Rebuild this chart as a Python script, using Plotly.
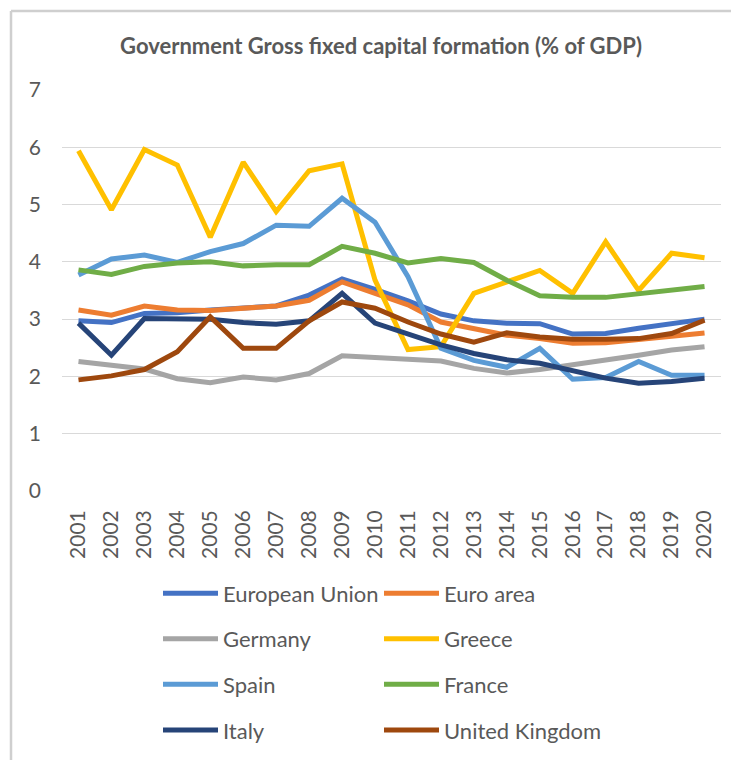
import plotly.graph_objects as go

years = [str(y) for y in range(2001, 2021)]

european_union = [2.97, 2.94, 3.10, 3.11, 3.16, 3.19, 3.23, 3.42, 3.70, 3.52, 3.32, 3.09, 2.97, 2.93, 2.92, 2.74, 2.75, 2.84, 2.91, 3.00]
euro_area = [3.16, 3.07, 3.23, 3.16, 3.15, 3.20, 3.23, 3.33, 3.65, 3.45, 3.25, 2.95, 2.83, 2.72, 2.66, 2.58, 2.59, 2.65, 2.72, 2.76]
germany = [2.26, 2.20, 2.13, 1.96, 1.89, 1.99, 1.94, 2.05, 2.36, 2.33, 2.30, 2.27, 2.14, 2.06, 2.12, 2.20, 2.27, 2.37, 2.46, 2.52]
greece = [5.94, 4.91, 5.96, 5.69, 4.43, 5.74, 4.88, 5.59, 5.71, 3.68, 2.47, 2.52, 3.45, 3.65, 3.85, 3.45, 4.35, 3.50, 4.15, 4.07]
spain = [3.77, 4.05, 4.12, 3.99, 4.18, 4.32, 4.64, 4.62, 5.11, 4.69, 3.74, 2.49, 2.28, 2.16, 2.49, 1.95, 1.98, 2.26, 2.02, 2.02]
france = [3.86, 3.78, 3.92, 3.98, 4.00, 3.93, 3.95, 3.95, 4.27, 4.15, 3.98, 4.06, 3.99, 3.68, 3.41, 3.38, 3.38, 3.44, 3.52, 3.57]
italy = [2.93, 2.37, 3.01, 3.01, 3.00, 2.94, 2.91, 2.97, 3.45, 2.93, 2.75, 2.55, 2.40, 2.29, 2.23, 2.11, 1.97, 1.88, 1.91, 1.97]
united_kingdom = [1.94, 2.01, 2.12, 2.43, 3.04, 2.49, 2.49, 2.97, 3.30, 3.19, 2.95, 2.74, 2.60, 2.76, 2.69, 2.65, 2.65, 2.66, 2.75, 2.98]

y_ticks = [0, 1, 2, 3, 4, 5, 6, 7]

series = [
    ("European Union", european_union, "#4472C4", "legend"),
    ("Euro area", euro_area, "#ED7D31", "legend2"),
    ("Germany", germany, "#A5A5A5", "legend"),
    ("Greece", greece, "#FFC000", "legend2"),
    ("Spain", spain, "#5B9BD5", "legend"),
    ("France", france, "#70AD47", "legend2"),
    ("Italy", italy, "#264478", "legend"),
    ("United Kingdom", united_kingdom, "#9E480E", "legend2"),
]

FONT = "Lato, 'Liberation Sans', sans-serif"
TXT = "#595959"

fig = go.Figure()
for name, vals, color, leg in series:
    fig.add_trace(go.Scatter(
        x=years, y=vals, name=name, mode="lines",
        line=dict(color=color, width=5),
        legend=leg, legendgroup=name,
    ))

# page body has an 8px offset; layout numbers are in figure coordinates
W, H = 739, 760
L, R, T, B = 54, 26, 82, 277.3
pw = W - L - R
ph = H - T - B

def px_x(x):
    return (x - L) / pw

def px_y(y):
    return (H - B - y) / ph

legend_common = dict(
    font=dict(family=FONT, size=22, color=TXT),
    bgcolor="rgba(0,0,0,0)",
    orientation="v",
    itemwidth=55,
    tracegroupgap=14,
    yanchor="top",
    xanchor="left",
    itemclick=False,
)

fig.update_layout(
    width=W, height=H,
    margin=dict(l=L, r=R, t=T, b=B, autoexpand=False),
    paper_bgcolor="white",
    plot_bgcolor="white",
    font=dict(family=FONT, color=TXT),
    title=dict(
        text="<b>Government Gross fixed capital formation (% of GDP)</b>",
        font=dict(family=FONT, size=22, color=TXT),
        x=px_x(373), xref="paper", xanchor="center",
        y=1 - 38 / H, yref="container", yanchor="middle",
    ),
    xaxis=dict(
        type="category",
        range=[-0.5, len(years) - 0.5],
        showgrid=False,
        showline=False,
        zeroline=False,
        ticks="",
        tickangle=-90,
        tickfont=dict(family=FONT, size=21, color=TXT),
        ticklabelstandoff=14,
        fixedrange=True,
        automargin=False,
    ),
    yaxis=dict(
        range=[0, 7],
        tickvals=y_ticks,
        ticktext=[str(v) for v in y_ticks],
        showgrid=True,
        gridcolor="#D9D9D9",
        gridwidth=1.3,
        zeroline=False,
        showline=False,
        ticks="",
        tickfont=dict(family=FONT, size=21, color=TXT),
        ticklabelstandoff=20,
        fixedrange=True,
        automargin=False,
    ),
    legend=dict(x=px_x(150), y=px_y(564), **legend_common),
    legend2=dict(x=px_x(371), y=px_y(564), **legend_common),
    showlegend=True,
)

# chart area border (light gray), extending past the right and bottom edges
border_x = px_x(3)
border_y = px_y(3)
fig.add_shape(
    type="line", xref="paper", yref="paper",
    x0=border_x, x1=border_x, y0=px_y(H - 1), y1=border_y,
    line=dict(color="#CFCFCF", width=2.5),
    layer="above",
)
fig.add_shape(
    type="line", xref="paper", yref="paper",
    x0=border_x, x1=px_x(W - 1), y0=border_y, y1=border_y,
    line=dict(color="#CFCFCF", width=2.5),
    layer="above",
)

fig.write_html("out.html")
